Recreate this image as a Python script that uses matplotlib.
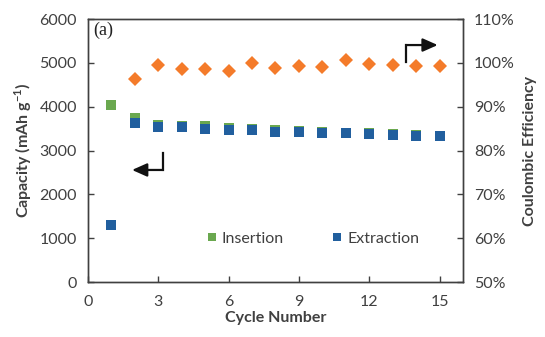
import matplotlib
matplotlib.use('Agg')
from matplotlib import pyplot as plt
from matplotlib.ticker import FuncFormatter

plt.rcParams['font.family'] = ['Lato', 'DejaVu Sans']
plt.rcParams['mathtext.fontset'] = 'custom'
plt.rcParams['mathtext.rm'] = 'Lato'
plt.rcParams['mathtext.bf'] = 'Lato:bold'

# capacity per cycle (mAh/g) and coulombic efficiency (%)
cycles = list(range(1, 16))
insertion = [4030, 3750, 3580, 3570, 3550, 3520, 3490, 3470, 3450, 3430, 3410, 3390, 3370, 3350, 3340]
extraction = [1310, 3620, 3540, 3530, 3500, 3470, 3460, 3430, 3420, 3400, 3390, 3370, 3350, 3330, 3330]
eff_cycles = list(range(2, 16))
efficiency = [96.3, 99.4, 98.5, 98.5, 98.2, 100.0, 98.9, 99.3, 99.1, 100.6, 99.7, 99.4, 99.3, 99.3]

green = '#6aa84f'
blue = '#215f9e'
orange = '#f47b2a'
dark = '#404040'
fs = 11.5

fig = plt.figure(figsize=(5.45, 3.37), dpi=100)
ax = fig.add_axes([0.1615, 0.1632, 0.6880, 0.7804])
ax2 = ax.twinx()

ax.plot(cycles, insertion, 's', color=green, markersize=7.2, markeredgewidth=0, label='Insertion')
ax.plot(cycles, extraction, 's', color=blue, markersize=7.2, markeredgewidth=0, label='Extraction')
ax2.plot(eff_cycles, efficiency, 'D', color=orange, markersize=7.5, markeredgewidth=0)

ax.set_xlim(0, 16)
ax.set_ylim(0, 6000)
ax.set_xticks([0, 3, 6, 9, 12, 15])
ax.set_yticks(range(0, 6001, 1000))
ax2.set_ylim(50, 110)
ax2.set_yticks(range(50, 111, 10))
ax2.yaxis.set_major_formatter(FuncFormatter(lambda v, p: '%d%%' % v))

for a in (ax, ax2):
    for s in a.spines.values():
        s.set_color(dark)
        s.set_linewidth(1.0)
    a.tick_params(direction='in', length=4, width=1, color=dark, labelcolor=dark,
                  labelsize=fs, pad=8)
ax.tick_params(axis='x', pad=9)

ax.set_xlabel('Cycle Number', fontsize=fs, fontweight='bold', color=dark, labelpad=2)
ax.set_ylabel(r'Capacity (mAh g$^{\mathbf{-1}}$)', fontsize=fs, fontweight='bold', color=dark, labelpad=4)
ax2.set_ylabel('Coulombic Efficiency', fontsize=fs, fontweight='bold', color=dark, labelpad=6)

ax.text(0.013, 0.955, '(a)', transform=ax.transAxes, fontsize=13, family='Liberation Serif',
        va='center', ha='left', color='#222222')

# direction arrows: capacity -> left axis, efficiency -> right axis
ax.plot([0.2, 0.2], [0.49, 0.426], transform=ax.transAxes, color='#111111', lw=1.6)
ax.annotate('', xy=(0.11, 0.426), xytext=(0.204, 0.426), xycoords='axes fraction',
            arrowprops=dict(arrowstyle='-|>,head_length=0.9,head_width=0.4', color='#111111', lw=1.6))
ax.plot([0.848, 0.848], [0.837, 0.901], transform=ax.transAxes, color='#111111', lw=1.6)
ax.annotate('', xy=(0.94, 0.901), xytext=(0.844, 0.901), xycoords='axes fraction',
            arrowprops=dict(arrowstyle='-|>,head_length=0.9,head_width=0.4', color='#111111', lw=1.6))

leg = ax.legend(loc='center', bbox_to_anchor=(0.6, 0.165), ncol=2, frameon=False,
                fontsize=fs, markerscale=0.8, handlelength=0.6, handletextpad=0.35,
                columnspacing=3.0, borderpad=0)
for t in leg.get_texts():
    t.set_color(dark)

fig.savefig('out.png', dpi=100)
